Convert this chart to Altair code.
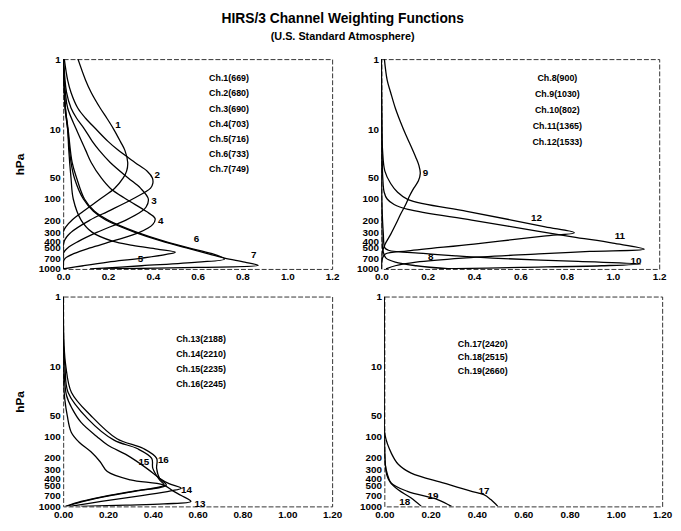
import altair as alt
import pandas as pd

FONT = "Liberation Sans"

# ---------------- data: (pressure hPa, weight) per channel ----------------
ch1_p = [1, 2, 3, 5, 7, 10, 15, 20, 30, 40, 50, 70, 100, 150, 200, 250, 300, 1000]
ch1_w = [0.066, 0.10, 0.125, 0.165, 0.195, 0.225, 0.255, 0.275, 0.288, 0.283, 0.268, 0.23, 0.165, 0.09, 0.04, 0.012, 0.0, 0.0]
ch2_p = [1, 2, 3, 5, 7, 10, 15, 20, 30, 40, 50, 60, 70, 100, 150, 200, 300, 400, 1000]
ch2_w = [0.005, 0.02, 0.035, 0.065, 0.1, 0.146, 0.2, 0.245, 0.32, 0.375, 0.398, 0.4, 0.39, 0.31, 0.2, 0.12, 0.035, 0.005, 0.0]
ch3_p = [1, 3, 5, 7, 10, 15, 20, 30, 50, 70, 100, 130, 150, 200, 300, 400, 500, 600, 1000]
ch3_w = [0.002, 0.015, 0.035, 0.06, 0.095, 0.13, 0.16, 0.21, 0.29, 0.345, 0.38, 0.37, 0.35, 0.28, 0.15, 0.07, 0.02, 0.0, 0.0]
ch4_p = [1, 3, 5, 10, 20, 30, 50, 70, 100, 150, 190, 230, 300, 400, 500, 600, 700, 800, 1000]
ch4_w = [0.0, 0.01, 0.02, 0.058, 0.1, 0.125, 0.17, 0.21, 0.28, 0.37, 0.41, 0.40, 0.34, 0.22, 0.12, 0.05, 0.01, 0.0, 0.0]
ch5_p = [1, 5, 10, 20, 50, 100, 200, 300, 400, 460, 520, 575, 620, 700, 800, 900, 1000]
ch5_w = [0.0, 0.01, 0.02, 0.025, 0.035, 0.045, 0.08, 0.13, 0.22, 0.31, 0.42, 0.50, 0.46, 0.35, 0.2, 0.09, 0.0]
ch6_p = [1, 5, 10, 30, 50, 100, 150, 200, 300, 400, 500, 600, 720, 800, 900, 1000]
ch6_w = [0.0, 0.01, 0.022, 0.04, 0.06, 0.095, 0.14, 0.2, 0.33, 0.45, 0.56, 0.66, 0.72, 0.6, 0.35, 0.12]
ch7_p = [1, 5, 10, 30, 50, 100, 150, 200, 300, 400, 500, 600, 700, 800, 890, 950, 1000]
ch7_w = [0.0, 0.008, 0.02, 0.035, 0.05, 0.09, 0.135, 0.19, 0.32, 0.44, 0.55, 0.64, 0.72, 0.81, 0.87, 0.6, 0.18]

ch8_p = [1, 100, 300, 500, 600, 700, 800, 900, 1000]
ch8_w = [0.0, 0.0, 0.002, 0.005, 0.01, 0.02, 0.06, 0.15, 0.3]
ch9_p = [1, 2, 3, 5, 8, 12, 17, 25, 33, 43, 55, 70, 90, 120, 160, 210, 320, 450, 600, 1000]
ch9_w = [0.013, 0.025, 0.04, 0.06, 0.083, 0.105, 0.126, 0.148, 0.162, 0.168, 0.16, 0.14, 0.122, 0.105, 0.085, 0.068, 0.04, 0.015, 0.003, 0.0]
ch10_p = [1, 100, 300, 500, 540, 600, 650, 700, 780, 850, 900, 950, 1000]
ch10_w = [0.0, 0.002, 0.008, 0.015, 0.03, 0.18, 0.32, 0.48, 0.85, 1.12, 0.95, 0.6, 0.25]
ch11_p = [1, 20, 50, 80, 100, 120, 141, 200, 265, 347, 427, 520, 560, 610, 700, 800, 900, 1000]
ch11_w = [0.0, 0.003, 0.006, 0.012, 0.025, 0.055, 0.115, 0.39, 0.61, 0.825, 1.0, 1.135, 0.9, 0.68, 0.35, 0.15, 0.06, 0.02]
ch12_p = [1, 10, 20, 40, 60, 80, 102, 150, 200, 250, 303, 340, 440, 550, 610, 700, 1000]
ch12_w = [0.0, 0.002, 0.005, 0.015, 0.04, 0.07, 0.115, 0.369, 0.562, 0.708, 0.833, 0.70, 0.40, 0.115, 0.017, 0.005, 0.0]

ch13_p = [1, 10, 20, 29, 50, 87, 120, 166, 230, 318, 418, 494, 600, 700, 850, 920, 960, 1000]
ch13_w = [0.0, 0.0, 0.003, 0.007, 0.018, 0.036, 0.07, 0.124, 0.165, 0.197, 0.3, 0.446, 0.49, 0.527, 0.57, 0.45, 0.28, 0.08]
ch14_p = [1, 10, 26, 40, 63, 100, 134, 185, 286, 396, 470, 550, 600, 700, 850, 1000]
ch14_w = [0.0, 0.003, 0.015, 0.04, 0.08, 0.15, 0.2, 0.285, 0.373, 0.43, 0.47, 0.526, 0.48, 0.35, 0.17, 0.03]
ch15_p = [1, 5, 10, 23.5, 56, 113, 149, 206, 286, 418, 494, 600, 700, 850, 1000]
ch15_w = [0.0, 0.002, 0.008, 0.022, 0.11, 0.227, 0.33, 0.395, 0.40, 0.43, 0.45, 0.32, 0.2, 0.08, 0.01]
ch16_p = [1, 5, 10, 23.5, 50.5, 108, 149, 206, 286, 396, 494, 600, 700, 850, 1000]
ch16_w = [0.0, 0.004, 0.012, 0.037, 0.124, 0.24, 0.358, 0.417, 0.417, 0.43, 0.46, 0.33, 0.21, 0.09, 0.015]

ch17_p = [1, 50, 96, 176, 250, 335, 465, 600, 680, 800, 1000]
ch17_w = [0.0, 0.0, 0.003, 0.031, 0.06, 0.116, 0.258, 0.37, 0.43, 0.46, 0.49]
ch18_p = [1, 100, 250, 350, 450, 580, 760, 1000]
ch18_w = [0.0, 0.0, 0.004, 0.01, 0.025, 0.06, 0.116, 0.16]
ch19_p = [1, 100, 250, 335, 465, 610, 800, 1000]
ch19_w = [0.0, 0.0, 0.004, 0.012, 0.03, 0.10, 0.23, 0.29]

# curve number labels (text, weight, pressure)
tl_lab = (["1", "2", "3", "4", "5", "6", "7"],
          [0.245, 0.42, 0.405, 0.435, 0.345, 0.595, 0.85],
          [8.8, 45, 108, 207, 720, 375, 630])
tr_lab = (["8", "9", "10", "11", "12"],
          [0.213, 0.19, 1.10, 1.03, 0.67],
          [680, 43, 770, 340, 185])
bl_lab = (["13", "14", "15", "16"],
          [0.61, 0.55, 0.36, 0.447],
          [920, 580, 230, 217])
br_lab = (["17", "18", "19"],
          [0.43, 0.088, 0.21],
          [610, 870, 720])

tl_legend = ["Ch.1(669)", "Ch.2(680)", "Ch.3(690)", "Ch.4(703)", "Ch.5(716)", "Ch.6(733)", "Ch.7(749)"]
tr_legend = ["Ch.8(900)", "Ch.9(1030)", "Ch.10(802)", "Ch.11(1365)", "Ch.12(1533)"]
bl_legend = ["Ch.13(2188)", "Ch.14(2210)", "Ch.15(2235)", "Ch.16(2245)"]
br_legend = ["Ch.17(2420)", "Ch.18(2515)", "Ch.19(2660)"]

x_ticks = [0.0, 0.2, 0.4, 0.6, 0.8, 1.0, 1.2]
y_ticks = [1, 10, 50, 100, 200, 300, 400, 500, 700, 1000]


def frame(chans):
    rows = []
    for name, ps, ws in chans:
        for i, (p, w) in enumerate(zip(ps, ws)):
            rows.append({"ch": name, "p": p, "w": w, "i": i})
    return pd.DataFrame(rows)


def panel(chans, lab, legend, leg_w, leg_p, leg_lh, width, fmt, ytitle):
    df = frame(chans)
    ldf = pd.DataFrame({"t": lab[0], "w": lab[1], "p": lab[2]})
    xenc = alt.X("w:Q", scale=alt.Scale(domain=[0, 1.2], nice=False, zero=False),
                 axis=alt.Axis(values=x_ticks, format=fmt, title=None, labelFlush=False,
                               labelOverlap=False))
    yaxis = dict(values=y_ticks, labelOverlap=False, labelFlush=False, format="d")
    yaxis["title"] = "hPa" if ytitle else None
    yenc = alt.Y("p:Q", scale=alt.Scale(type="log", domain=[1, 1000], reverse=True, nice=False),
                 axis=alt.Axis(**yaxis))
    lines = alt.Chart(df).mark_line(color="black", strokeWidth=1.3, clip=True,
                                    interpolate="catmull-rom").encode(
        x=xenc, y=yenc, detail="ch:N", order="i:Q")
    nums = alt.Chart(ldf).mark_text(font=FONT, fontSize=10, fontWeight="bold", color="black").encode(
        x="w:Q", y="p:Q", text="t:N")
    leg = alt.Chart(pd.DataFrame({"a": [0]})).mark_text(
        font=FONT, fontSize=9, fontWeight="bold", color="black", align="center",
        baseline="top", lineHeight=leg_lh).encode(
        x=alt.datum(leg_w), y=alt.datum(leg_p), text=alt.value(legend))
    return alt.layer(lines, nums, leg).properties(width=width, height=213)


tl = panel([("1", ch1_p, ch1_w), ("2", ch2_p, ch2_w), ("3", ch3_p, ch3_w), ("4", ch4_p, ch4_w),
            ("5", ch5_p, ch5_w), ("6", ch6_p, ch6_w), ("7", ch7_p, ch7_w)],
           tl_lab, tl_legend, 0.74, 1.65, 15.4, 273, ".1f", True)
tr = panel([("8", ch8_p, ch8_w), ("9", ch9_p, ch9_w), ("10", ch10_p, ch10_w),
            ("11", ch11_p, ch11_w), ("12", ch12_p, ch12_w)],
           tr_lab, tr_legend, 0.76, 1.65, 16.2, 282, ".1f", False)
bl = panel([("13", ch13_p, ch13_w), ("14", ch14_p, ch14_w), ("15", ch15_p, ch15_w), ("16", ch16_p, ch16_w)],
           bl_lab, bl_legend, 0.615, 3.6, 15.0, 273, ".2f", True)
br = panel([("17", ch17_p, ch17_w), ("18", ch18_p, ch18_w), ("19", ch19_p, ch19_w)],
           br_lab, br_legend, 0.425, 4.2, 13.6, 282, ".2f", False)

chart = alt.vconcat(
    alt.hconcat(tl, tr, spacing=16),
    alt.hconcat(bl, br, spacing=16),
    spacing=8,
).properties(
    title=alt.TitleParams(
        text="HIRS/3 Channel Weighting Functions",
        subtitle="(U.S. Standard Atmosphere)",
        font=FONT, fontSize=14, fontWeight="bold", color="black",
        subtitleFont=FONT, subtitleFontSize=11, subtitleFontWeight="bold", subtitleColor="black",
        subtitlePadding=5, anchor="middle", offset=12,
    ),
    padding={"left": 5, "top": 0, "right": 0, "bottom": 0},
    background="white",
).configure_view(
    stroke="#333", strokeWidth=1, strokeDash=[5, 2]
).configure_axis(
    domain=False, ticks=False, grid=False, labelPadding=3,
    labelFont=FONT, labelFontSize=10, labelFontWeight="bold", labelColor="black",
    titleFont=FONT, titleFontSize=12, titleFontWeight="bold", titleColor="black",
).configure_axisY(titlePadding=12)

chart.save("out.html", embed_options={"renderer": "svg", "actions": False})
